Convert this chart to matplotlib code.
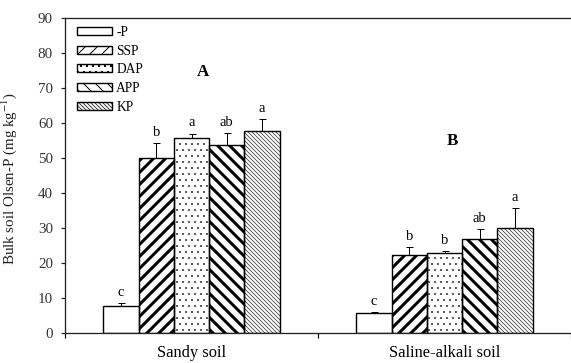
import numpy as np
import matplotlib as mpl
mpl.use('Agg')
import matplotlib.pyplot as plt
from matplotlib.patches import Patch

plt.rcParams['font.family'] = ['Liberation Serif', 'DejaVu Serif']
plt.rcParams['mathtext.fontset'] = 'stix'

soils = ['Sandy soil', 'Saline-alkali soil']
treatments = ['-P', 'SSP', 'DAP', 'APP', 'KP']

# mean Olsen-P per treatment, one list per soil
sandy_mean = [7.8, 49.9, 55.8, 53.6, 57.8]
sandy_err = [0.8, 4.3, 1.2, 3.6, 3.3]
sandy_sig = ['c', 'b', 'a', 'ab', 'a']

saline_mean = [5.6, 22.3, 23.0, 26.8, 29.9]
saline_err = [0.4, 2.4, 0.4, 2.8, 5.7]
saline_sig = ['c', 'b', 'b', 'ab', 'a']

means = [sandy_mean, saline_mean]
errs = [sandy_err, saline_err]
sigs = [sandy_sig, saline_sig]
panels = ['A', 'B']

# hatch, hatch colour, hatch line width
styles = [('', 'black', 1.0),
          ('//', 'black', 3.0),
          ('..', 'black', 0.5),
          ('\\\\', 'black', 3.0),
          ('\\\\\\\\\\\\', '#444444', 0.8)]

fig = plt.figure(figsize=(571 / 72, 363 / 72), dpi=72)
ax = fig.add_axes([65 / 571, 30 / 363, 506 / 571, 315 / 363])

width = 0.1395
offsets = (np.arange(len(treatments)) - 2) * width
centers = np.array([0.5, 1.5])

handles = []
for i, t in enumerate(treatments):
    hatch, hcol, hlw = styles[i]
    x = centers + offsets[i]
    y = [m[i] for m in means]
    e = [er[i] for er in errs]
    with plt.rc_context({'hatch.linewidth': hlw}):
        hb = ax.bar(x, y, width, color='white', edgecolor=hcol, hatch=hatch,
                    linewidth=0, zorder=2)
        for p in hb:
            if hasattr(p, 'set_hatch_linewidth'):
                p.set_hatch_linewidth(hlw)
    ax.bar(x, y, width, fill=False, edgecolor='black', linewidth=1.4, zorder=3)
    ax.errorbar(x, y, yerr=[np.zeros(len(e)), e], fmt='none', ecolor='black',
                elinewidth=1.0, capsize=3.5, capthick=1.0, zorder=1)
    for xi, yi, ei, s in zip(x, y, e, [sg[i] for sg in sigs]):
        ax.annotate(s, (xi, yi + ei), xytext=(0, 4), textcoords='offset points',
                    ha='center', va='bottom', fontsize=14.5)

    with plt.rc_context({'hatch.linewidth': hlw}):
        h1 = Patch(facecolor='white', edgecolor=hcol, hatch=hatch, linewidth=0)
        if hasattr(h1, 'set_hatch_linewidth'):
            h1.set_hatch_linewidth(hlw)
    h2 = Patch(fill=False, edgecolor='black', linewidth=1.4)
    handles.append((h1, h2))

ax.text(0.545, 74.6, panels[0], ha='center', va='center', fontsize=17,
        fontweight='bold')
ax.text(1.53, 54.9, panels[1], ha='center', va='center', fontsize=17,
        fontweight='bold')

ax.set_xlim(0, 2)
ax.set_ylim(0, 90)
ax.set_yticks(np.arange(0, 100, 10))
ax.set_xticks([0, 1, 2])
ax.set_xticklabels([])
ax.set_xticks(centers, soils, minor=True)
ax.tick_params(axis='x', which='minor', length=0, pad=12, labelsize=16.5)
ax.tick_params(axis='x', which='major', length=5, width=1.2, direction='out')
ax.tick_params(axis='y', length=4, width=1.2, direction='out', pad=8,
               labelsize=15, colors='#222222', labelcolor='#333333')
ax.set_ylabel('Bulk soil Olsen-P (mg kg$^{-1}$)', fontsize=15, color='#222222')
ax.yaxis.set_label_coords(-0.09, 0.49)

ax.spines['right'].set_visible(False)
for s in ['left', 'bottom', 'top']:
    ax.spines[s].set_linewidth(1.3)
    ax.spines[s].set_color('#222222')

ax.legend(handles, treatments, loc='upper left', bbox_to_anchor=(12 / 506, 0.975),
          frameon=False, fontsize=13.5, handlelength=2.6, handleheight=0.52,
          handletextpad=0.3, labelspacing=0.42, borderpad=0, borderaxespad=0)

fig.savefig('out.png', dpi=72)
